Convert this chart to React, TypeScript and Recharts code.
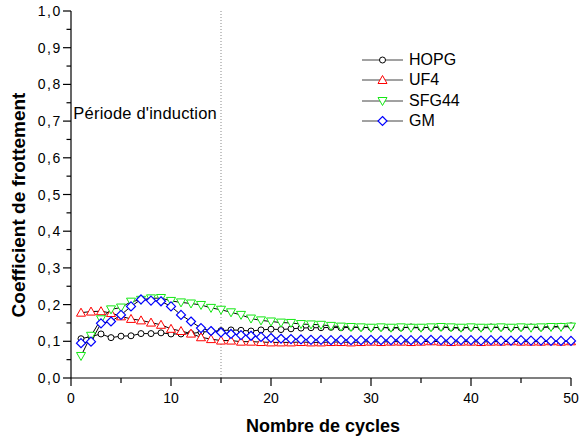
import React from 'react';
import { LineChart, Line, XAxis, YAxis, ReferenceLine, Legend, Label } from 'recharts';

const FONT = '"Liberation Sans", Arial, Helvetica, sans-serif';

// cycle number (x)
const cycles = [
   1, 2, 3, 4, 5, 6, 7, 8, 9, 10, 11, 12, 13, 14, 15, 16, 17, 18, 19, 20, 21, 22, 23, 24, 25,
   26, 27, 28, 29, 30, 31, 32, 33, 34, 35, 36, 37, 38, 39, 40, 41, 42, 43, 44, 45, 46, 47, 48, 49, 50,
];

// coefficient de frottement per material
const hopg = [
   0.107, 0.113, 0.12, 0.11, 0.114, 0.115, 0.121, 0.121, 0.123, 0.12, 0.12, 0.121, 0.125, 0.127, 0.129,
   0.131, 0.13, 0.128, 0.131, 0.133, 0.132, 0.134, 0.136, 0.137, 0.137, 0.138, 0.137, 0.138, 0.138, 0.137,
   0.138, 0.136, 0.137, 0.139, 0.137, 0.138, 0.138, 0.137, 0.136, 0.138, 0.137, 0.139, 0.138, 0.137, 0.138,
   0.139, 0.138, 0.14, 0.141, 0.142,
];
const uf4 = [
   0.178, 0.181, 0.182, 0.177, 0.168, 0.161, 0.157, 0.151, 0.145, 0.134, 0.128, 0.121, 0.111, 0.106, 0.102,
   0.102, 0.099, 0.099, 0.098, 0.097, 0.097, 0.097, 0.098, 0.097, 0.097, 0.098, 0.098, 0.097, 0.098, 0.099,
   0.098, 0.099, 0.099, 0.098, 0.099, 0.1, 0.099, 0.098, 0.099, 0.099, 0.098, 0.099, 0.099, 0.1, 0.099,
   0.099, 0.099, 0.1, 0.099, 0.1,
];
const sfg44 = [
   0.06, 0.115, 0.16, 0.187, 0.192, 0.208, 0.213, 0.217, 0.218, 0.21, 0.206, 0.203, 0.199, 0.191, 0.186,
   0.179, 0.172, 0.162, 0.157, 0.154, 0.151, 0.15, 0.147, 0.146, 0.145, 0.142, 0.14, 0.139, 0.138, 0.137,
   0.138, 0.137, 0.138, 0.137, 0.137, 0.138, 0.139, 0.138, 0.137, 0.138, 0.137, 0.137, 0.138, 0.137, 0.138,
   0.137, 0.138, 0.139, 0.139, 0.14,
];
const gm = [
   0.095, 0.099, 0.149, 0.154, 0.172, 0.195, 0.214, 0.211, 0.209, 0.195, 0.172, 0.154, 0.136, 0.128, 0.124,
   0.12, 0.117, 0.115, 0.112, 0.109, 0.107, 0.106, 0.105, 0.104, 0.104, 0.103, 0.104, 0.103, 0.103, 0.104,
   0.103, 0.103, 0.104, 0.103, 0.103, 0.104, 0.103, 0.102, 0.103, 0.103, 0.102, 0.103, 0.102, 0.102, 0.103,
   0.102, 0.102, 0.101, 0.101, 0.101,
];

const seriesNames = ['HOPG', 'UF4', 'SFG44', 'GM'];
const xTicks = [0, 5, 10, 15, 20, 25, 30, 35, 40, 45, 50];
const yTicks = [
   0, 0.05, 0.1, 0.15, 0.2, 0.25, 0.3, 0.35, 0.4, 0.45, 0.5, 0.55, 0.6, 0.65, 0.7, 0.75, 0.8, 0.85, 0.9,
   0.95, 1,
];
const inductionEnd = 15;

const data = cycles.map((c, i) => ({
   cycle: c,
   HOPG: hopg[i],
   UF4: uf4[i],
   SFG44: sfg44[i],
   GM: gm[i],
}));

const RED = '#ff0000';
const GREEN = '#14e814';
const BLUE = '#0000ff';

const marker = (name: string, cx: number, cy: number, key?: any) => {
   if (cx == null || cy == null) return null;
   if (name === 'HOPG')
      return <circle key={key} cx={cx} cy={cy} r={3} fill="#fff" stroke="#000" strokeWidth={1} />;
   if (name === 'UF4')
      return (
         <polygon
            key={key}
            points={`${cx},${cy - 4.5} ${cx + 4.5},${cy + 3.5} ${cx - 4.5},${cy + 3.5}`}
            fill="#fff"
            stroke={RED}
            strokeWidth={1}
         />
      );
   if (name === 'SFG44')
      return (
         <polygon
            key={key}
            points={`${cx - 4.5},${cy - 3.5} ${cx + 4.5},${cy - 3.5} ${cx},${cy + 4.5}`}
            fill="#fff"
            stroke={GREEN}
            strokeWidth={1}
         />
      );
   return (
      <polygon
         key={key}
         points={`${cx},${cy - 4.5} ${cx + 4.5},${cy} ${cx},${cy + 4.5} ${cx - 4.5},${cy}`}
         fill="#fff"
         stroke={BLUE}
         strokeWidth={1.2}
      />
   );
};

const XTick = ({ x, y, payload }: any) => {
   const major = payload.value % 10 === 0;
   return (
      <g>
         <line x1={x} x2={x} y1={y} y2={y + (major ? 8 : 5)} stroke="#000" strokeWidth={1.2} />
         {major && (
            <text x={x} y={y + 25} textAnchor="middle" fontSize={14} fontFamily={FONT} fill="#000">
               {payload.value}
            </text>
         )}
      </g>
   );
};

const YTick = ({ x, y, payload }: any) => {
   const major = Math.round(payload.value * 100) % 10 === 0;
   return (
      <g>
         <line x1={x} x2={x - (major ? 8 : 4.5)} y1={y} y2={y} stroke="#000" strokeWidth={1.2} />
         {major && (
            <text
               x={x - 9}
               y={y + 5}
               textAnchor="end"
               fontSize={14}
               letterSpacing={1.6}
               fontFamily={FONT}
               fill="#000"
            >
               {payload.value.toFixed(1).replace('.', ',')}
            </text>
         )}
      </g>
   );
};

const LegendBox = () => (
   <div style={{ fontFamily: FONT, fontSize: 16, color: '#000' }}>
      {seriesNames.map((name) => (
         <div key={name} style={{ display: 'flex', alignItems: 'center', height: 20.3 }}>
            <svg width={41} height={14} style={{ display: 'block' }}>
               <line x1={0} x2={41} y1={7} y2={7} stroke="#444" strokeWidth={1} />
               {marker(name, 20.5, 7)}
            </svg>
            <span style={{ marginLeft: 6, lineHeight: '16px' }}>{name}</span>
         </div>
      ))}
   </div>
);

export default function App() {
   return (
      <div style={{ position: 'absolute', left: 0, top: 0, width: 579, height: 439, background: '#fff' }}>
         <LineChart width={579} height={439} data={data} margin={{ top: 11, right: 8, bottom: 0, left: 8 }}>
            <XAxis
               dataKey="cycle"
               type="number"
               domain={[0, 50]}
               ticks={xTicks}
               interval={0}
               tickSize={0}
               tickMargin={0}
               tickLine={false}
               axisLine={{ stroke: '#000', strokeWidth: 1.2 }}
               height={61}
               tick={<XTick />}
            >
               <Label
                  content={({ viewBox }: any) => (
                     <text
                        x={viewBox.x + viewBox.width / 2 + 2}
                        y={viewBox.y + 54}
                        textAnchor="middle"
                        fontSize={18}
                        fontWeight="bold"
                        fontFamily={FONT}
                        fill="#000"
                     >
                        Nombre de cycles
                     </text>
                  )}
               />
            </XAxis>
            <YAxis
               type="number"
               domain={[0, 1]}
               ticks={yTicks}
               interval={0}
               width={63}
               tickSize={0}
               tickMargin={0}
               tickLine={false}
               axisLine={{ stroke: '#000', strokeWidth: 1.2 }}
               tick={<YTick />}
            >
               <Label
                  content={() => (
                     <text
                        x={25}
                        y={205}
                        transform="rotate(-90, 25, 205)"
                        textAnchor="middle"
                        fontSize={19}
                        fontWeight="bold"
                        fontFamily={FONT}
                        fill="#000"
                     >
                        Coefficient de frottement
                     </text>
                  )}
               />
            </YAxis>
            <ReferenceLine
               x={inductionEnd}
               stroke="#8a8a8a"
               strokeDasharray="1 2"
               strokeWidth={1}
               label={
                  <Label
                     content={({ viewBox }: any) => (
                        <text
                           x={viewBox.x - 4}
                           y={viewBox.y + 108}
                           textAnchor="end"
                           fontSize={16.5}
                           letterSpacing={0.2}
                           fontFamily={FONT}
                           fill="#000"
                        >
                           Période d'induction
                        </text>
                     )}
                  />
               }
            />
            <Legend
               layout="vertical"
               align="center"
               verticalAlign="middle"
               wrapperStyle={{ position: 'absolute', top: 50, left: 362, width: 140 }}
               content={<LegendBox />}
            />
            {seriesNames.map((name) => (
               <Line
                  key={name}
                  dataKey={name}
                  stroke="#000"
                  strokeWidth={1}
                  isAnimationActive={false}
                  dot={(p: any) => marker(name, p.cx, p.cy, `${name}-${p.index}`)}
                  activeDot={false}
               />
            ))}
         </LineChart>
      </div>
   );
}
